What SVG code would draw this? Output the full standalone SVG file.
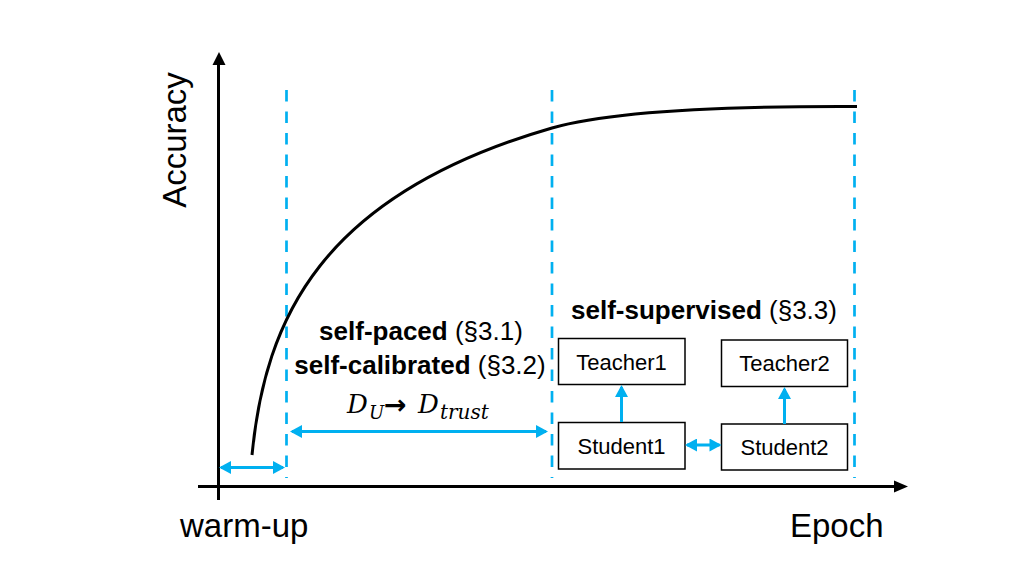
<svg xmlns="http://www.w3.org/2000/svg" width="1034" height="585" viewBox="0 0 1034 585">
<defs>
<style>
.axis{stroke:#000;stroke-width:3;fill:none}
.dash{stroke:#00B0F0;stroke-width:2.7;stroke-dasharray:11.5 10;fill:none}
.blue{stroke:#00B0F0;stroke-width:3;fill:none}
.box{fill:#fff;stroke:#000;stroke-width:1.5}
.lbl{font-family:"Liberation Sans",Arial,sans-serif;fill:#000}
.boxt{font-family:"Liberation Sans",Arial,sans-serif;font-size:22px;fill:#000;text-anchor:middle}
.hd{font-family:"Liberation Sans",Arial,sans-serif;font-size:26px;fill:#000;text-anchor:middle}
.math{font-family:"DejaVu Serif",serif;font-style:italic;fill:#000}
</style>
<marker id="ah" markerUnits="userSpaceOnUse" markerWidth="13" markerHeight="13" viewBox="0 0 12 13" refX="10" refY="6.5" orient="auto-start-reverse">
<path d="M0,0 L12,6.5 L0,13 z" fill="#00B0F0"/>
</marker>
</defs>
<rect width="1034" height="585" fill="#fff"/>

<!-- axes -->
<line class="axis" x1="218.5" y1="500" x2="218.5" y2="63"/>
<polygon points="212.5,65 219,52 225.5,65" fill="#000"/>
<line class="axis" x1="198" y1="486.5" x2="896" y2="486.5"/>
<polygon points="894,480.5 908,486.5 894,492.5" fill="#000"/>

<!-- dashed phase boundaries -->
<line class="dash" x1="286.5" y1="90" x2="286.5" y2="478"/>
<line class="dash" x1="552" y1="90" x2="552" y2="478"/>
<line class="dash" x1="854.5" y1="90" x2="854.5" y2="478"/>

<!-- accuracy curve -->
<path d="M252,455 C265,320 320,195 552,128 C610,111.3 730,106 857,106.5" stroke="#000" stroke-width="3" fill="none"/>

<!-- axis labels -->
<text class="lbl" font-size="33" transform="translate(186,140) rotate(-90)" text-anchor="middle">Accuracy</text>
<text class="lbl" font-size="33" x="180" y="537">warm-up</text>
<text class="lbl" font-size="33" x="790" y="537">Epoch</text>

<!-- phase labels -->
<text class="hd" x="421" y="340"><tspan font-weight="bold">self-paced</tspan> (§3.1)</text>
<text class="hd" x="420" y="374"><tspan font-weight="bold">self-calibrated</tspan> (§3.2)</text>
<text class="math" font-size="26"><tspan x="347" y="413">D</tspan><tspan x="369" y="419" font-size="18">U</tspan><tspan x="384" y="414" font-style="normal" font-weight="bold" font-family="DejaVu Sans,sans-serif" font-size="27">→</tspan><tspan x="418" y="413">D</tspan><tspan x="440" y="419" font-size="20">trust</tspan></text>
<text class="hd" x="704" y="319"><tspan font-weight="bold">self-supervised</tspan> (§3.3)</text>

<!-- nodes -->
<g id="teacher1">
<rect class="box" x="558.5" y="338.5" width="126.5" height="46"/>
<text class="boxt" x="621.5" y="370">Teacher1</text>
</g>
<g id="student1">
<rect class="box" x="558.5" y="422.5" width="126.5" height="46.5"/>
<text class="boxt" x="621.5" y="453.5">Student1</text>
</g>
<g id="teacher2">
<rect class="box" x="721.5" y="340" width="126" height="46.5"/>
<text class="boxt" x="784.5" y="371">Teacher2</text>
</g>
<g id="student2">
<rect class="box" x="721.5" y="424" width="126" height="46"/>
<text class="boxt" x="784.5" y="455">Student2</text>
</g>

<!-- connectors -->
<g id="connectors">
<line class="blue" x1="221" y1="467.5" x2="283" y2="467.5" marker-start="url(#ah)" marker-end="url(#ah)"/>
<line class="blue" x1="292" y1="431.5" x2="546" y2="431.5" marker-start="url(#ah)" marker-end="url(#ah)"/>
<line class="blue" x1="621.5" y1="422" x2="621.5" y2="387" marker-end="url(#ah)"/>
<line class="blue" x1="784.5" y1="424" x2="784.5" y2="389" marker-end="url(#ah)"/>
<line class="blue" x1="687" y1="445" x2="719.5" y2="445" marker-start="url(#ah)" marker-end="url(#ah)"/>
</g>
</svg>
